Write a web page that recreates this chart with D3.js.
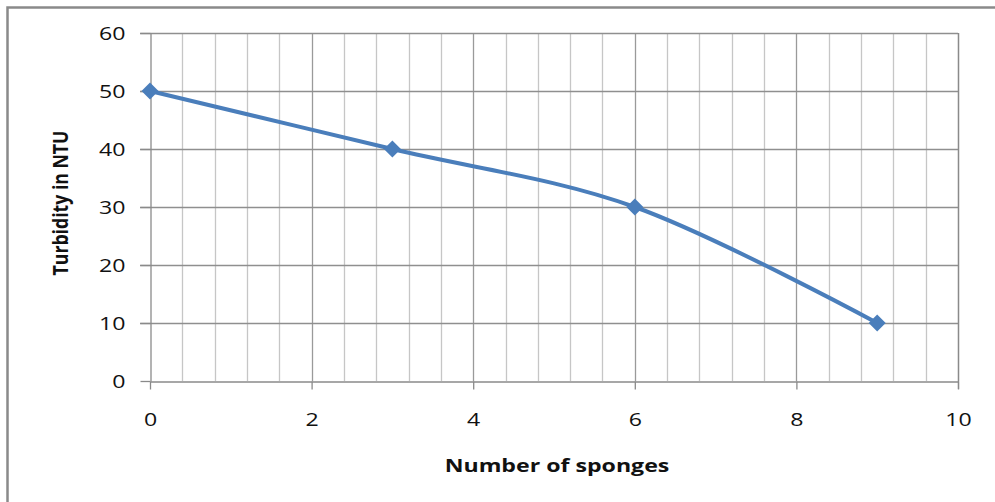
<!DOCTYPE html>
<html>
<head>
<meta charset="utf-8">
<script src="https://cdn.jsdelivr.net/npm/d3@7"></script>
<style>
  html, body { margin: 0; padding: 0; background: #fff; }
  svg { display: block; }
  text { font-family: "Open Sans", "Liberation Sans", sans-serif; fill: #111; }
</style>
</head>
<body>
<svg id="chart" width="995" height="502"></svg>
<script>
// ---- data ----
const sponges = [0, 3, 6, 9];
const turbidity = [50, 40, 30, 10];
const xTicks = [0, 2, 4, 6, 8, 10];
const yTicks = [0, 10, 20, 30, 40, 50, 60];
const xTitle = "Number of sponges";
const yTitle = "Turbidity in NTU";

const svg = d3.select("#chart");
const W = 995, H = 502;
const m = { left: 150, right: 958, top: 33, bottom: 381 };

const x = d3.scaleLinear().domain([0, 10]).range([m.left, m.right]);
const y = d3.scaleLinear().domain([0, 60]).range([m.bottom, m.top]);

// outer chart border (only top and left visible)
svg.append("rect")
  .attr("x", 7.5).attr("y", 7.5)
  .attr("width", W + 10).attr("height", H + 10)
  .attr("fill", "none").attr("stroke", "#8a8a8a").attr("stroke-width", 2.5);

const grid = svg.append("g");
// minor vertical grid every 0.4
const minor = d3.range(0, 10.0001, 0.4).map(v => +v.toFixed(2));
grid.selectAll("line.minor").data(minor.filter(v => Math.abs(v / 2 - Math.round(v / 2)) > 1e-6))
  .join("line")
  .attr("x1", d => Math.round(x(d)) + 0.5).attr("x2", d => Math.round(x(d)) + 0.5)
  .attr("y1", m.top).attr("y2", m.bottom)
  .attr("stroke", "#c6c6c6").attr("stroke-width", 1.3);
// major vertical grid
grid.selectAll("line.major").data(xTicks.slice(1))
  .join("line")
  .attr("x1", d => Math.round(x(d)) + 0.5).attr("x2", d => Math.round(x(d)) + 0.5)
  .attr("y1", m.top).attr("y2", m.bottom)
  .attr("stroke", "#9a9a9a").attr("stroke-width", 1.3);
// horizontal grid
grid.selectAll("line.h").data(yTicks.slice(1))
  .join("line")
  .attr("x1", m.left - 10).attr("x2", m.right)
  .attr("y1", d => Math.round(y(d)) + 0.5).attr("y2", d => Math.round(y(d)) + 0.5)
  .attr("stroke", "#8f8f8f").attr("stroke-width", 1.3);

// axes
const xAxis = svg.append("g")
  .attr("transform", `translate(0,${Math.round(y(0)) + 0.5})`)
  .call(d3.axisBottom(x).tickValues(xTicks).tickSize(8).tickSizeOuter(0).tickFormat(d3.format("d")));
xAxis.select(".domain").attr("stroke", "#8a8a8a").attr("stroke-width", 1.3);
xAxis.selectAll(".tick line").attr("stroke", "#8a8a8a").attr("stroke-width", 1.3);
xAxis.selectAll(".tick text").attr("font-size", 18.5).attr("dy", 0).attr("y", 44.5)
  .attr("font-family", "Open Sans").attr("fill", "#111");

const yAxis = svg.append("g")
  .attr("transform", `translate(${Math.round(x(0)) + 0.5},0)`)
  .call(d3.axisLeft(y).tickValues(yTicks).tickSize(10).tickSizeOuter(0).tickFormat(d3.format("d")));
yAxis.select(".domain").attr("stroke", "#8a8a8a").attr("stroke-width", 1.3);
yAxis.selectAll(".tick line").attr("stroke", "#8a8a8a").attr("stroke-width", 1.3);
yAxis.selectAll(".tick text").attr("font-size", 18.5).attr("x", -25).attr("dy", "0.36em")
  .attr("font-family", "Open Sans").attr("fill", "#111");

// widen tick labels horizontally (reference text is stretched)
function stretch(sel, sx) {
  sel.each(function () {
    const t = d3.select(this);
    const tx = +t.attr("x") || 0;
    t.attr("transform", `translate(${tx},0) scale(${sx},1) translate(${-tx},0)`);
  });
}
stretch(xAxis.selectAll(".tick text"), 1.25);
stretch(yAxis.selectAll(".tick text"), 1.25);

// right border of plot area
svg.append("line")
  .attr("x1", Math.round(x(10)) + 0.5).attr("x2", Math.round(x(10)) + 0.5)
  .attr("y1", m.top).attr("y2", m.bottom + 8)
  .attr("stroke", "#8a8a8a").attr("stroke-width", 1.3);

// series line
const pts = sponges.map((s, i) => [s, turbidity[i]]);
svg.append("path")
  .datum(pts)
  .attr("fill", "none")
  .attr("stroke", "#4a7ebb")
  .attr("stroke-width", 4)
  .attr("stroke-linejoin", "round")
  .attr("d", d3.line().x(d => x(d[0])).y(d => y(d[1])).curve(d3.curveCardinal.tension(0)));

// diamond markers
svg.selectAll("path.marker").data(pts).join("path")
  .attr("class", "marker")
  .attr("transform", d => `translate(${x(d[0])},${y(d[1])})`)
  .attr("d", "M0,-8.5L8.5,0L0,8.5L-8.5,0Z")
  .attr("fill", "#4a7ebb");

// axis titles
const cx = (m.left + m.right) / 2 + 3;
const xt = svg.append("text")
  .attr("x", cx).attr("y", 472)
  .attr("text-anchor", "middle")
  .attr("font-size", 18).attr("font-weight", "bold")
  .text(xTitle);
const xw = xt.node().getBBox().width;
xt.attr("transform", `translate(${cx},0) scale(${225 / xw},1) translate(${-cx},0)`);

const yt = svg.append("text")
  .attr("text-anchor", "middle")
  .attr("font-size", 17).attr("font-weight", "bold")
  .attr("transform", "translate(68,203) rotate(-90)")
  .text(yTitle);
const yw = yt.node().getBBox().width;
yt.attr("transform", `translate(68,203) scale(1.3,${145 / yw}) rotate(-90)`);
</script>
</body>
</html>
